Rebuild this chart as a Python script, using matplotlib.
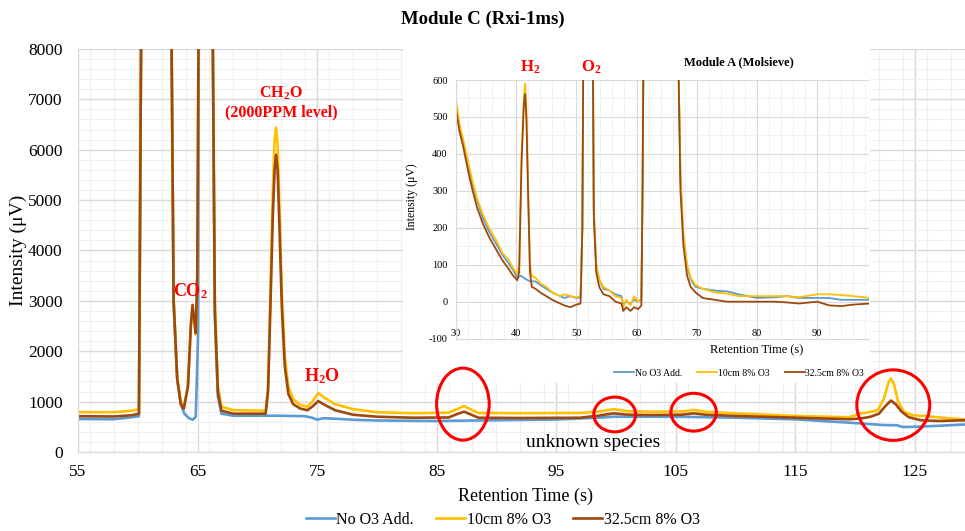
import matplotlib.pyplot as plt
from matplotlib.patches import Ellipse, Rectangle
from matplotlib.ticker import MultipleLocator

plt.rcParams['font.family'] = ['Liberation Serif', 'DejaVu Serif']
plt.rcParams['mathtext.default'] = 'regular'
plt.rcParams['axes.unicode_minus'] = False

# ---- Module C (Rxi-1ms) main chromatogram ----
labels = ['No O3 Add.', '10cm 8% O3', '32.5cm 8% O3']
colors = ['#5B9BD5', '#FFC000', '#9E480E']

t_blue = [55, 58, 59.5, 60.1, 60.3, 62.8, 63.0, 63.3, 63.6, 63.9, 64.3, 64.6, 64.85, 64.95,
          65.05, 65.12, 66.25, 66.45, 66.7, 67.0, 68, 72, 74, 74.6, 75, 75.5, 76.5, 78, 80,
          85, 90, 95, 98.5, 99.8, 105, 110, 115, 119.5, 122.3, 123.5, 124, 125, 127, 130]
v_blue = [655, 650, 690, 710, 9000, 9000, 3000, 1450, 950, 760, 670, 640, 700, 1500,
          2400, 9000, 9000, 2700, 1100, 760, 720, 720, 710, 680, 640, 670, 660, 640, 625,
          615, 630, 645, 680, 700, 700, 681, 648, 582, 536, 530, 496, 500, 520, 556]

t_yel = [55, 58, 59.5, 60.1, 60.3, 62.8, 63.0, 63.3, 63.6, 63.85, 64.2, 64.45, 64.58, 64.72,
         64.85, 64.98, 65.1, 66.25, 66.45, 66.7, 67.0, 68, 70.7, 70.9, 71.1, 71.3, 71.45,
         71.57, 71.7, 71.85, 72.05, 72.3, 72.6, 73.0, 73.6, 74.2, 74.6, 75.1, 75.6, 76.5,
         78, 80, 83, 86, 86.8, 87.3, 87.8, 88.5, 92, 97, 98.5, 99.8, 101, 103, 105.5,
         106.5, 107.5, 110, 115, 119.5, 120.4, 121.4, 121.9, 122.4, 122.8, 123.0, 123.25,
         123.6, 124.1, 124.8, 126, 127.5, 130]
v_yel = [790, 790, 820, 850, 9000, 9000, 3000, 1500, 1000, 880, 1300, 2500, 2880, 2600,
         2330, 3500, 9000, 9000, 3000, 1300, 900, 830, 820, 1300, 3200, 5200, 6200,
         6440, 6100, 4900, 3200, 1900, 1300, 1050, 930, 900, 1000, 1170, 1080, 950,
         850, 790, 770, 780, 860, 913, 850, 775, 770, 775, 800, 850, 810, 800, 805,
         835, 800, 767, 715, 690, 760, 800, 830, 1050, 1380, 1460, 1350,
         1000, 800, 730, 710, 675, 635]

t_brn = [55, 58, 59.5, 60.1, 60.3, 62.8, 63.0, 63.3, 63.6, 63.85, 64.2, 64.45, 64.58, 64.72,
         64.85, 64.98, 65.1, 66.25, 66.45, 66.7, 67.0, 68, 70.7, 70.9, 71.1, 71.3, 71.45,
         71.57, 71.7, 71.85, 72.05, 72.3, 72.6, 73.0, 73.6, 74.2, 74.6, 75.1, 75.6, 76.5,
         78, 80, 83, 86, 86.8, 87.3, 87.8, 88.5, 92, 97, 98.5, 99.8, 101, 103, 105.5,
         106.5, 107.5, 110, 115, 119.5, 120.5, 121.3, 122.0, 122.5, 123.0, 123.4, 123.9,
         124.5, 125.5, 127, 130]
v_brn = [710, 705, 730, 760, 9000, 9000, 3000, 1450, 950, 860, 1300, 2550, 2920, 2650,
         2360, 3500, 9000, 9000, 2800, 1200, 820, 760, 760, 1200, 2900, 4700, 5600,
         5900, 5600, 4500, 2900, 1700, 1150, 950, 860, 830, 900, 1010, 940, 830,
         740, 700, 680, 685, 760, 800, 750, 680, 675, 680, 720, 767, 740, 734, 740,
         767, 740, 715, 681, 650, 665, 700, 760, 900, 1020, 950, 800,
         690, 630, 615, 635]

# ---- Module A (Molsieve) inset ----
ti_yel = [30, 30.6, 31.2, 32, 32.7, 33.5, 34.5, 35.5, 36.9, 37.8, 38.7, 39.5, 40.2, 40.5,
          40.9, 41.3, 41.5, 41.7, 42.0, 42.3, 42.6, 43.2, 44, 45, 46, 47.3, 48, 49, 50,
          50.7, 51.0, 51.2, 52.7, 52.9, 53.3, 53.8, 54.5, 55.5, 56.5, 57.5, 57.8, 58.3,
          59, 59.6, 60.3, 60.8, 61.0, 61.2, 66.8, 67.3, 67.8, 68.4, 69, 69.8, 71, 73, 75,
          77, 80, 83, 85, 87, 90, 92, 94, 96, 98.7]
vi_yel = [550, 480, 440, 380, 330, 280, 235, 200, 160, 130, 115, 90, 75, 100,
          400, 560, 590, 520, 300, 100, 70, 65, 50, 40, 25, 15, 20, 15, 12,
          15, 200, 800, 800, 250, 100, 60, 40, 30, 15, 10, -15, 5,
          -10, 15, 0, 10, 300, 800, 800, 350, 180, 100, 65, 45, 35, 25, 22,
          15, 15, 15, 15, 12, 20, 20, 18, 15, 10]

ti_blue = [30, 30.6, 31.2, 32, 32.7, 33.5, 34.5, 35.5, 36.9, 37.8, 38.7, 39.5, 40.2, 40.8,
           41.5, 42.3, 43.2, 44, 45, 46, 47.3, 48, 49, 50, 50.7, 51.0, 51.2, 52.7, 52.9,
           53.3, 53.8, 54.5, 55.5, 56.5, 57.5, 57.8, 58.3, 59, 59.6, 60.3, 60.8, 61.0,
           61.2, 66.8, 67.3, 67.8, 68.4, 69, 69.8, 71, 73, 75, 77, 80, 83, 85, 87, 90, 92,
           94, 96, 98.7]
vi_blue = [530, 470, 430, 370, 320, 275, 225, 190, 150, 125, 105, 85, 65, 70,
           62, 55, 55, 45, 35, 25, 15, 10, 15, 10, 12, 200, 800, 800, 250,
           100, 60, 35, 30, 20, 15, -10, 0, -5, 5, 0, 5, 300,
           800, 800, 330, 170, 95, 60, 40, 35, 30, 28, 20, 10, 12, 15, 10, 10, 10,
           5, 5, 5]

ti_brn = ti_yel
vi_brn = [520, 460, 420, 355, 305, 255, 210, 175, 135, 110, 90, 70, 58, 80,
          380, 540, 562, 500, 280, 80, 40, 35, 25, 15, 5, -5, -10, -15, -8,
          -5, 200, 800, 800, 230, 80, 40, 20, 15, 0, -5, -25, -15,
          -25, -15, -20, -10, 300, 800, 800, 300, 150, 70, 40, 25, 10, 5, 0,
          0, 0, 0, -2, -5, 0, -10, -12, -8, -5]

# annotation ellipses (centre x, centre y, width, height) in data units
circles = [(87.2, 950, 4.4, 1430), (99.9, 745, 3.5, 690),
           (106.5, 790, 3.8, 750), (123.2, 930, 6.1, 1400)]

fig = plt.figure(figsize=(9.65, 5.31), dpi=100)
fig.patch.set_facecolor('white')

ax = fig.add_axes([0.0808, 0.1488, 0.9192, 0.759])
for t, v, c, lab in [(t_blue, v_blue, colors[0], labels[0]),
                     (t_yel, v_yel, colors[1], labels[1]),
                     (t_brn, v_brn, colors[2], labels[2])]:
    ax.plot(t, v, color=c, lw=1.9, label=lab)

ax.set_xlim(55, 129.2)
ax.set_ylim(0, 8000)
ax.xaxis.set_major_locator(MultipleLocator(10))
ax.xaxis.set_minor_locator(MultipleLocator(2))
ax.yaxis.set_major_locator(MultipleLocator(1000))
ax.yaxis.set_minor_locator(MultipleLocator(200))
ax.grid(True, which='major', color='#d9d9d9', lw=1.0)
ax.grid(True, which='minor', color='#efefef', lw=0.8)
ax.set_axisbelow(True)
for s in ['top', 'right']:
    ax.spines[s].set_visible(False)
ax.spines['left'].set_color('#d9d9d9')
ax.spines['bottom'].set_color('#d9d9d9')
ax.tick_params(which='both', length=0, labelsize=12.5)
ax.tick_params(axis='y', pad=11)
ax.tick_params(axis='x', pad=9)
ax.set_xticks([55, 65, 75, 85, 95, 105, 115, 125])
ax.set_ylabel('Intensity (μV)', fontsize=14)
ax.yaxis.set_label_coords(-0.058, 0.5)
ax.set_xlabel('Retention Time (s)', fontsize=13)
ax.xaxis.set_label_coords(0.505, -0.088)

# white panel of the pasted inset, over the main traces but under the circles
ax.add_patch(Rectangle((0.4176, 0.2787), 0.484, 0.631, transform=fig.transFigure,
                       facecolor='white', edgecolor='none', zorder=3, clip_on=False))

red = '#FF0000'
ax.text(64.37, 3196, 'CO$_2$', color=red, fontsize=13, fontweight='bold', ha='center', va='center')
ax.text(72.0, 7126, 'CH$_2$O', color=red, fontsize=11.5, fontweight='bold', ha='center', va='center')
ax.text(72.0, 6750, '(2000PPM level)', color=red, fontsize=11.5, fontweight='bold', ha='center', va='center')
ax.text(75.4, 1509, 'H$_2$O', color=red, fontsize=13, fontweight='bold', ha='center', va='center')
ax.text(98.1, 180, 'unknown species', color='black', fontsize=14, ha='center', va='center')
for cx, cy, w, h in circles:
    ax.add_patch(Ellipse((cx, cy), w, h, fill=False, edgecolor=red, lw=2.2, clip_on=False, zorder=5))

fig.suptitle('Module C (Rxi-1ms)', x=0.5, y=0.98, fontsize=13.5, fontweight='bold')
fig.legend(loc='center', bbox_to_anchor=(0.521, 0.021), ncol=3, frameon=False,
           fontsize=11.5, handlelength=1.8, columnspacing=1.4, handletextpad=0.1)

ins = fig.add_axes([0.4725, 0.3623, 0.4285, 0.487], zorder=3)
ins.plot(ti_blue, vi_blue, color=colors[0], lw=1.3, label=labels[0])
ins.plot(ti_yel, vi_yel, color=colors[1], lw=1.3, label=labels[1])
ins.plot(ti_brn, vi_brn, color=colors[2], lw=1.3, label=labels[2])
ins.set_xlim(30, 98.7)
ins.set_ylim(-100, 600)
ins.xaxis.set_major_locator(MultipleLocator(10))
ins.xaxis.set_minor_locator(MultipleLocator(2))
ins.yaxis.set_major_locator(MultipleLocator(100))
ins.yaxis.set_minor_locator(MultipleLocator(50))
ins.grid(True, which='major', color='#d9d9d9', lw=0.8)
ins.grid(True, which='minor', color='#efefef', lw=0.6)
ins.set_axisbelow(True)
for s in ['top', 'right']:
    ins.spines[s].set_visible(False)
ins.spines['left'].set_color('#d9d9d9')
ins.spines['bottom'].set_color('#d9d9d9')
ins.tick_params(which='both', length=0, labelsize=7.5)
ins.tick_params(axis='y', pad=6)
ins.tick_params(axis='x', pad=-7)
ins.set_ylabel('Intensity (μV)', fontsize=8.5)
ins.yaxis.set_label_coords(-0.092, 0.55)
ins.set_xlabel('Retention Time (s)', fontsize=9)
ins.xaxis.set_label_coords(0.728, -0.02)
ins.legend(loc='center', bbox_to_anchor=(0.766, 0.2975), bbox_transform=fig.transFigure,
           ncol=3, frameon=False, fontsize=7, handlelength=2.0, columnspacing=1.6,
           handletextpad=0.1)

fig.text(0.766, 0.8832, 'Module A (Molsieve)', fontsize=9, fontweight='bold', ha='center', va='center')
fig.text(0.549, 0.8738, 'H$_2$', color=red, fontsize=12, fontweight='bold', ha='center', va='center')
fig.text(0.6124, 0.8738, 'O$_2$', color=red, fontsize=12, fontweight='bold', ha='center', va='center')

fig.savefig('out.png', dpi=100)
